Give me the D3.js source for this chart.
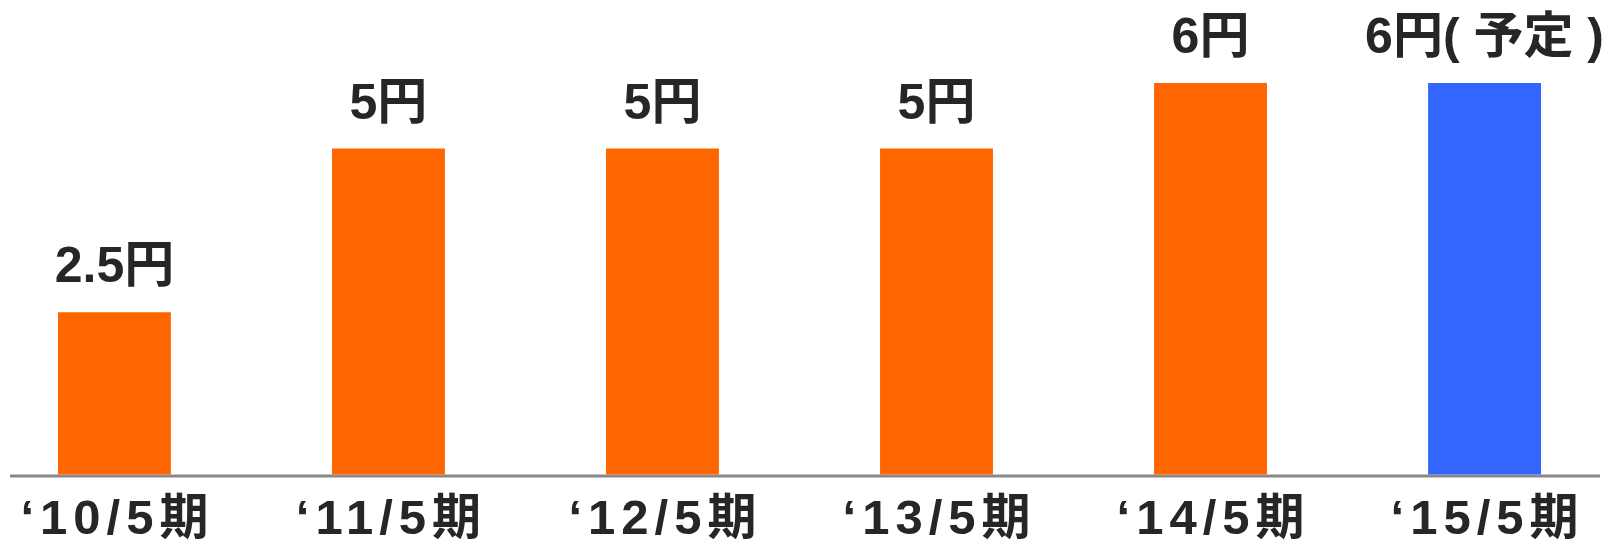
<!DOCTYPE html>
<html>
  <head>
    <meta charset="utf-8" />
    <script src="https://cdn.jsdelivr.net/npm/d3@7"></script>
    <style>
        html, body { margin: 0; padding: 0; background: #fff; }
        text {
            font-family: "Liberation Sans", "Noto Sans CJK JP", sans-serif;
            font-weight: bold;
            fill: #262626;
            white-space: pre;
        }
    </style>
  </head>
  <body>
    <script type="text/javascript">

        // chart data
        var periods = ["‘10/5期", "‘11/5期", "‘12/5期", "‘13/5期", "‘14/5期", "‘15/5期"];
        var dividends = [2.5, 5, 5, 5, 6, 6];
        var valueLabels = ["2.5円", "5円", "5円", "5円", "6円", "6円( 予定 )"];
        var planned = [false, false, false, false, false, true];

        var width = 1616,
            height = 542;

        var svg = d3.select("body")
            .append("svg")
            .attr("width", width)
            .attr("height", height);

        var x = d3.scaleBand()
            .domain(periods)
            .range([58, 1541])
            .paddingInner(0.588)
            .paddingOuter(0);

        var y = d3.scaleLinear()
            .domain([0, 6])
            .range([476, 83]);

        // baseline
        svg.append("line")
            .attr("x1", 10)
            .attr("x2", 1600)
            .attr("y1", y(0))
            .attr("y2", y(0))
            .attr("stroke", "#888888")
            .attr("stroke-width", 3);

        svg.selectAll("rect.bar")
            .data(dividends)
            .enter()
            .append("rect")
            .attr("class", "bar")
            .attr("x", function(d, i) { return x(periods[i]); })
            .attr("y", function(d) { return y(d); })
            .attr("width", x.bandwidth())
            .attr("height", function(d) { return y(0) - y(d) - 1.5; })
            .attr("fill", function(d, i) { return planned[i] ? "#3366FF" : "#FF6600"; });

        // value labels above bars
        svg.selectAll("text.value")
            .data(dividends)
            .enter()
            .append("text")
            .attr("class", "value")
            .attr("x", function(d, i) { return x(periods[i]) + x.bandwidth() / 2; })
            .attr("y", function(d) { return y(d) - 30; })
            .attr("text-anchor", "middle")
            .style("font-size", "50px")
            .text(function(d, i) { return valueLabels[i]; });

        // category axis
        var axis = svg.append("g")
            .attr("class", "x-axis")
            .attr("transform", "translate(0," + y(0) + ")")
            .call(d3.axisBottom(x).tickSize(0).tickPadding(0));

        axis.select(".domain").remove();
        axis.selectAll("text")
            .attr("y", 58)
            .attr("dy", 0)
            .attr("dx", 3)
            .attr("fill", "#262626")
            .style("font-size", "49px")
            .style("letter-spacing", "6px")
            .style("font-family", "\"Liberation Sans\", \"Noto Sans CJK JP\", sans-serif")
            .style("font-weight", "bold");

    </script>
  </body>
</html>
